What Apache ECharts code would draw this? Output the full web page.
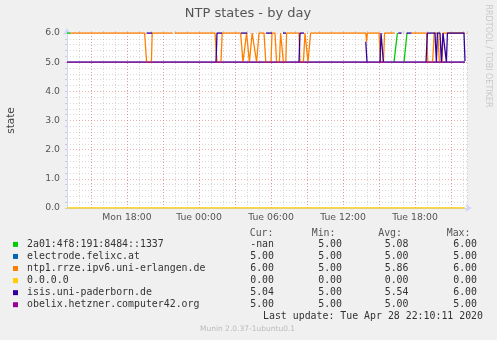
<!DOCTYPE html>
<html><head><meta charset="utf-8">
<script src="https://cdn.jsdelivr.net/npm/echarts@6/dist/echarts.min.js"></script>
<style>html,body{margin:0;padding:0;background:#F0F0F0;}#c{width:497px;height:340px;}</style>
</head><body><div id="c"></div>
<script>
// x values: minutes since Mon 00:00 (Mon 13:00 = 780 ... Tue 22:20 = 2780)
const xStart = 780, xEnd = 2780;
const tickMinutes = [1080, 1440, 1800, 2160, 2520];
const tickLabels = ['Mon 18:00', 'Tue 00:00', 'Tue 06:00', 'Tue 12:00', 'Tue 18:00'];
const yTicks = [0, 1, 2, 3, 4, 5, 6];

const seriesNames = ['2a01:4f8:191:8484::1337', 'electrode.felixc.at', 'ntp1.rrze.ipv6.uni-erlangen.de', '0.0.0.0', 'isis.uni-paderborn.de', 'obelix.hetzner.computer42.org'];
const palette = ['#00CC00', '#0066B3', '#FF8000', '#FFCC00', '#330099', '#990099'];

const green = [[780,6],[798,6],[799,null],[2415,5],[2432,6],[2433,null],[2465,5],[2480,6],[2481,null]];
const electrode = [[780,5],[2770,5]];
const ntp1 = [[798,6],[1168,6],[1178,5],[1202,5],[1206,6],[1308,6],[1312,null],[1318,6],[1520,6],[1530,5],[1550,5],[1556,6],
  [1648,6],[1660,5],[1665,5],[1678,6],[1682,6],[1692,5],[1698,5],[1706,6],[1715,6],[1728,5],[1730,5],[1740,6],
  [1765,6],[1774,5],[1800,5],[1805,6],[1820,6],[1828,5],[1842,5],[1848,6],[1858,6],[1862,5],[1874,5],[1878,6],
  [1940,6],[1945,5],[1962,5],[1970,6],[1978,6],[1985,5],[1990,5],[1998,6],[2274,6],[2278,5.7],[2282,6],
  [2340,6],[2348,5],[2362,5],[2368,6],[2418,6],[2420,null],[2504,6],[2578,6],[2584,5],[2608,5],[2616,6],
  [2634,6],[2642,5],[2655,5],[2660,6],[2770,6]];
const zeroPeer = [[780,0],[2770,0]];
const isis = [[1178,6],[1206,6],[1207,null],[1525,5],[1530,6],[1555,6],[1556,null],[1650,6],[1680,6],[1681,null],
  [1775,6],[1805,6],[1806,null],[1860,6],[1875,6],[1876,null],[1940,5],[1945,6],[1965,6],[1966,null],
  [2274,5.7],[2280,5],[2281,null],[2345,5],[2350,6],[2357,6],[2362,5],[2363,null],[2436,6],[2453,6],[2454,null],
  [2478,6],[2503,6],[2504,null],[2575,5],[2582,6],[2620,6],[2627,5],[2632,6],[2645,6],[2652,5],[2660,6],
  [2670,6],[2677,5],[2682,6],[2765,6],[2770,5.04]];
const obelix = [[780,5],[2770,5]];
const seriesData = [green, electrode, ntp1, zeroPeer, isis, obelix];

const curVals = ['-nan', '5.00', '6.00', '0.00', '5.04', '5.00'];
const minVals = ['5.00', '5.00', '5.00', '0.00', '5.00', '5.00'];
const avgVals = ['5.08', '5.00', '5.86', '0.00', '5.54', '5.00'];
const maxVals = ['6.00', '5.00', '6.00', '0.00', '6.00', '5.00'];

const chart = echarts.init(document.getElementById('c'), null, {renderer: 'canvas'});
const mono = '"DejaVu Sans Mono", monospace';
const sans = '"DejaVu Sans", sans-serif';
const axisCol = '#CFD6F8';
const gridCol = 'rgba(160,160,160,0.4)';
const mgridCol = 'rgba(230,100,100,0.5)';

const redLines = [];
for (let m = 900; m < xEnd; m += 180) redLines.push(m);

const g = [];
g.push({type:'text', x:248, y:13.5, style:{text:'NTP states - by day', font:'13px ' + sans, fill:'#555', align:'center', verticalAlign:'middle'}});
g.push({type:'text', x:11, y:120.5, rotation:Math.PI/2, style:{text:'state', font:'10.5px ' + sans, fill:'#444', align:'center', verticalAlign:'middle'}});
g.push({type:'text', x:488, y:56, rotation:-Math.PI/2, style:{text:'RRDTOOL / TOBI OETIKER', font:'8px ' + sans, fill:'#c8c8c8', align:'center', verticalAlign:'middle'}});
const colsX = [274, 342, 408.5, 477];
const heads = ['Cur:', 'Min:', 'Avg:', 'Max:'];
const headX = [273.5, 335.5, 402, 470.5];
heads.forEach((h, i) => g.push({type:'text', x:headX[i], y:233.3, style:{text:h, font:'9.9px ' + mono, fill:'#555', align:'right', verticalAlign:'middle'}}));
const cols = [curVals, minVals, avgVals, maxVals];
seriesNames.forEach((n, r) => {
  const y = 244.4 + r * 12.06;
  g.push({type:'rect', shape:{x:13, y:y - 2.5, width:5, height:5}, style:{fill:palette[r]}});
  g.push({type:'text', x:27, y:y, style:{text:n, font:'9.9px ' + mono, fill:'#333', align:'left', verticalAlign:'middle'}});
  cols.forEach((c, i) => g.push({type:'text', x:colsX[i], y:y, style:{text:c[r], font:'9.9px ' + mono, fill:'#333', align:'right', verticalAlign:'middle'}}));
});
g.push({type:'text', x:483, y:316.7, style:{text:'Last update: Tue Apr 28 22:10:11 2020', font:'9.9px ' + mono, fill:'#333', align:'right', verticalAlign:'middle'}});
g.push({type:'text', x:247.5, y:329.3, style:{text:'Munin 2.0.37-1ubuntu0.1', font:'7.5px ' + sans, fill:'#bbb', align:'center', verticalAlign:'middle'}});

chart.setOption({
  animation: false,
  backgroundColor: '#F0F0F0',
  grid: {left:67, right:30, top:33, height:175, show:true, backgroundColor:'#FFFFFF', borderWidth:0},
  xAxis: [
    {type:'value', min:xStart, max:xEnd, z:1,
     axisLine:{show:true, lineStyle:{color:axisCol, width:1}, symbol:['none','arrow'], symbolSize:[6,7], symbolOffset:[0,5]},
     axisTick:{show:false, customValues:redLines},
     axisLabel:{customValues:tickMinutes, formatter:(v) => tickLabels[tickMinutes.indexOf(v)] || '', color:'#555', fontSize:9.3, fontFamily:sans, margin:5},
     splitLine:{show:true, lineStyle:{color:mgridCol, type:[1,2], width:1}}},
    {type:'value', min:xStart, max:xEnd, interval:60, z:0,
     axisLine:{show:false}, axisLabel:{show:false},
     axisTick:{show:true, length:2, inside:false, lineStyle:{color:'#ccc'}},
     splitLine:{show:true, lineStyle:{color:gridCol, type:[1,2], width:1}}}
  ],
  yAxis: {type:'value', min:0, max:6, interval:1,
     axisLine:{show:true, lineStyle:{color:axisCol, width:1}, symbol:['none','arrow'], symbolSize:[6,7], symbolOffset:[0,5]},
     axisTick:{show:true, length:2, lineStyle:{color:'#ccc'}},
     minorTick:{show:true, splitNumber:5, length:2, lineStyle:{color:'#ccc'}},
     axisLabel:{formatter:(v) => v.toFixed(1), color:'#555', fontSize:9.3, fontFamily:sans, margin:7},
     splitLine:{show:true, lineStyle:{color:mgridCol, type:[1,2], width:1}},
     minorSplitLine:{show:true, lineStyle:{color:gridCol, type:[1,2], width:1}}},
  series: seriesData.map((d, i) => ({
    name: seriesNames[i], type:'line', data:d, xAxisIndex:0, yAxisIndex:0,
    showSymbol:false, symbol:'none', connectNulls:false,
    lineStyle:{color:palette[i], width:1.3}, itemStyle:{color:palette[i]}, z:3
  })),
  graphic: g
});
</script></body></html>
